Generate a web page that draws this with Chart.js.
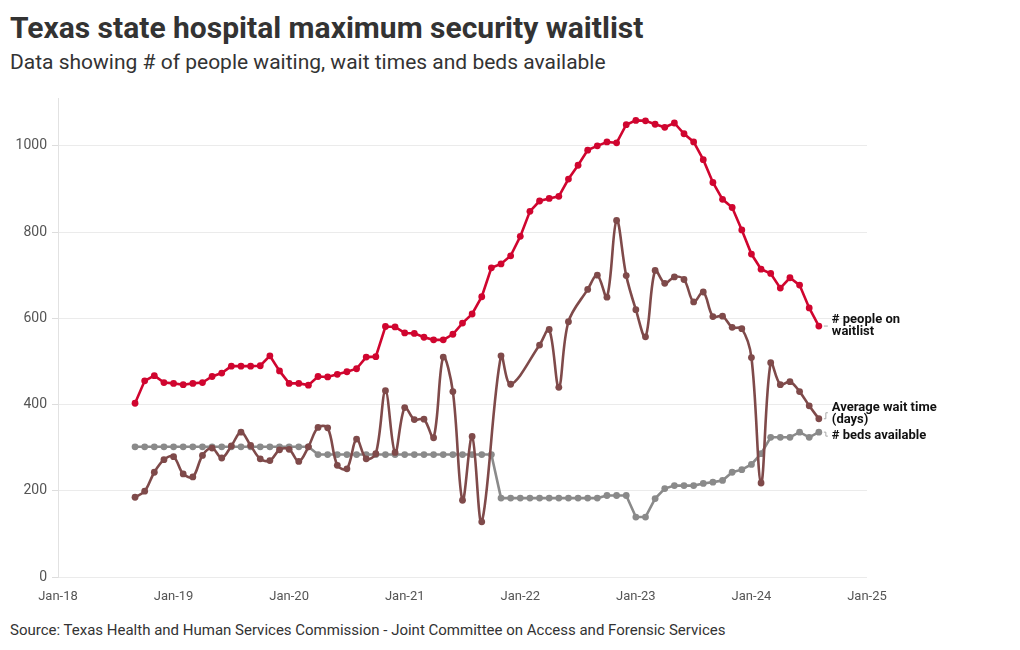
<!DOCTYPE html>
<html>
<head>
<meta charset="utf-8">
<script src="https://cdn.jsdelivr.net/npm/chart.js@4.4.1/dist/chart.umd.min.js"></script>
<style>
    body { margin: 0; background: #fff; font-family: "Roboto", sans-serif; }
    #page { position: relative; width: 1020px; height: 650px; overflow: hidden; }
    h1 { position: absolute; left: 10px; top: 10px; margin: 0; font-size: 30px; font-weight: 700; color: #333; }
    .subtitle { position: absolute; left: 10px; top: 50px; margin: 0; font-size: 21px; color: #333; }
    .source { position: absolute; left: 10px; top: 621px; margin: 0; font-size: 15px; color: #333; }
    #chart-box { position: absolute; left: 0; top: 85px; width: 1020px; height: 523px; }
</style>
</head>
<body>
<div id="page">
    <h1>Texas state hospital maximum security waitlist</h1>
    <p class="subtitle">Data showing # of people waiting, wait times and beds available</p>
    <div id="chart-box"><canvas id="waitlist-chart"></canvas></div>
    <p class="source">Source: Texas Health and Human Services Commission - Joint Committee on Access and Forensic Services</p>
</div>
<script>
// months counted from Jan 2018; first report is Sep 2018 (month 8), monthly to Aug 2024
const firstMonth = 8;
const yearLabels = ["Jan-18", "Jan-19", "Jan-20", "Jan-21", "Jan-22", "Jan-23", "Jan-24", "Jan-25"];

const peopleWaiting = [
    403, 455, 467, 451, 449, 446, 449, 451, 465, 473, 489, 489,
    489, 490, 513, 478, 449, 449, 445, 465, 464, 470, 476, 483,
    510, 511, 581, 580, 566, 565, 556, 550, 550, 563, 589, 610,
    650, 717, 726, 745, 790, 848, 872, 878, 883, 923, 955, 990,
    1000, 1009, 1007, 1049, 1059, 1058, 1050, 1043, 1053, 1028, 1009, 968,
    915, 876, 857, 805, 749, 714, 704, 670, 694, 677, 624, 582,
];

// null = no report that month
const waitDays = [
    185, 199, 243, 272, 279, 239, 232, 282, 299, 276, 304, 336,
    305, 274, 270, 295, 296, 268, 302, 347, 346, 259, 251, 320,
    274, 286, 432, 289, 393, 365, 366, 323, 510, 430, 178, 326,
    128, null, 513, 447, null, null, 538, 574, 440, 592, null, 667,
    700, 649, 827, 699, 620, 557, 711, 681, 696, 690, 638, 661,
    604, 605, 579, 576, 509, 218, 497, 446, 453, 430, 397, 367,
];

const bedsAvailable = [
    302, 302, 302, 302, 302, 302, 302, 302, 302, 302, 302, 302,
    302, 302, 302, 302, 302, 302, 302, 284, 284, 284, 284, 284,
    284, 284, 284, 284, 284, 284, 284, 284, 284, 284, 284, 284,
    284, 284, 183, 183, 183, 183, 183, 183, 183, 183, 183, 183,
    183, 189, 189, 189, 139, 139, 182, 205, 212, 212, 212, 217,
    220, 224, 243, 249, 261, 286, 324, 324, 324, 336, 324, 336,
];

const seriesNames = ["# people on waitlist", "Average wait time (days)", "# beds available"];
const seriesColors = ["#d0052f", "#7f4a4a", "#8a8a8a"];

function toPoints(values) {
    return values
        .map((value, i) => ({ x: firstMonth + i, y: value }))
        .filter((point) => point.y !== null);
}

function lineDataset(label, values, color, tension) {
    return {
        label,
        data: toPoints(values),
        borderColor: color,
        backgroundColor: color,
        borderWidth: 2.6,
        pointRadius: 3.4,
        pointHoverRadius: 4,
        pointBorderWidth: 0,
        tension,
    };
}

// end-of-line labels, placed next to each series' last point
const endLabels = {
    id: "endLabels",
    afterDatasetsDraw(chart) {
        const ctx = chart.ctx;
        const layout = [
            { lines: ["# people on", "waitlist"], dy: [-6, 6], tick: "dash" },
            { lines: ["Average wait time", "(days)"], dy: [-11, 1], tick: "up" },
            { lines: ["# beds available"], dy: [4], tick: "down" },
        ];
        ctx.save();
        chart.data.datasets.forEach((dataset, i) => {
            const meta = chart.getDatasetMeta(i);
            const last = meta.data[meta.data.length - 1];
            const spec = layout[i];
            const x = last.x + 13;
            ctx.strokeStyle = "#aaa";
            ctx.lineWidth = 1;
            ctx.beginPath();
            if (spec.tick === "dash") {
                ctx.moveTo(last.x + 5, last.y);
                ctx.lineTo(last.x + 9, last.y);
            } else if (spec.tick === "up") {
                ctx.moveTo(last.x + 5, last.y);
                ctx.lineTo(last.x + 7, last.y);
                ctx.lineTo(last.x + 7, last.y - 6);
                ctx.lineTo(last.x + 9, last.y - 6);
            } else {
                ctx.moveTo(last.x + 5, last.y);
                ctx.lineTo(last.x + 7, last.y);
                ctx.lineTo(last.x + 7, last.y + 4);
                ctx.lineTo(last.x + 9, last.y + 4);
            }
            ctx.stroke();
            ctx.fillStyle = "#111";
            ctx.font = "bold 13px Roboto, sans-serif";
            ctx.textBaseline = "middle";
            ctx.textAlign = "left";
            spec.lines.forEach((text, k) => {
                ctx.fillText(text, x, last.y + spec.dy[k]);
            });
        });
        ctx.restore();
    },
};

new Chart(document.getElementById("waitlist-chart"), {
    type: "line",
    data: {
        datasets: [
            lineDataset(seriesNames[0], peopleWaiting, seriesColors[0], 0),
            lineDataset(seriesNames[1], waitDays, seriesColors[1], 0.35),
            lineDataset(seriesNames[2], bedsAvailable, seriesColors[2], 0),
        ],
    },
    options: {
        responsive: true,
        maintainAspectRatio: false,
        animation: false,
        layout: { padding: { top: 6, right: 153, left: 0, bottom: 0 } },
        plugins: {
            legend: { display: false },
            tooltip: { enabled: false },
        },
        scales: {
            x: {
                type: "linear",
                min: 0,
                max: 84,
                afterFit: (scale) => { scale.height = 31; },
                grid: { display: false },
                border: { display: false },
                ticks: {
                    stepSize: 12,
                    autoSkip: false,
                    maxRotation: 0,
                    padding: 4,
                    color: "#555",
                    font: { family: "Roboto", size: 13 },
                    callback: (value) => yearLabels[value / 12],
                },
            },
            y: {
                min: 0,
                max: 1110,
                afterFit: (scale) => { scale.width = 58; },
                grid: { color: "#ebebeb", tickLength: 6, tickColor: "#ddd" },
                border: { display: true, color: "#e2e2e2" },
                ticks: {
                    stepSize: 200,
                    includeBounds: false,
                    padding: 5,
                    color: "#555",
                    font: { family: "Roboto", size: 14 },
                    callback: (value) => String(value),
                },
            },
        },
    },
    plugins: [endLabels],
});
</script>
</body>
</html>
